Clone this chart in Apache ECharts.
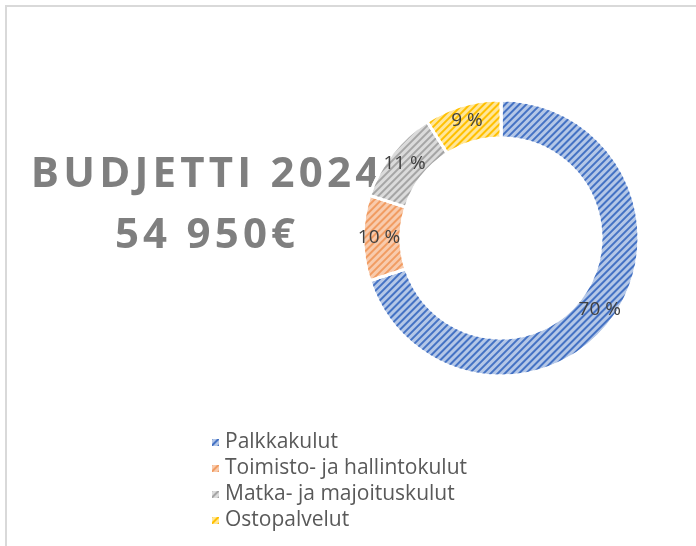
<!DOCTYPE html>
<html>
<head>
<meta charset="utf-8">
<script src="https://cdn.jsdelivr.net/npm/echarts@6/dist/echarts.min.js"></script>
<style>
  html, body { margin: 0; padding: 0; background: #fff; }
  #main { width: 696px; height: 546px; }
</style>
</head>
<body>
<div id="main"></div>
<script>
// budjetin jakauma (%)
var categories = ['Palkkakulut', 'Toimisto- ja hallintokulut', 'Matka- ja majoituskulut', 'Ostopalvelut'];
var shares = [70, 10, 11, 9];
var fillColors = ['#b4c7e7', '#f8cbad', '#dbdbdb', '#ffe699'];
var lineColors = ['#4472c4', '#ed7d31', '#a5a5a5', '#ffc000'];
var titleLines = ['BUDJETTI 2024', '54 950€'];

var myChart = echarts.init(document.getElementById('main'));

// kirjainväli otsikkoon (hair space merkkien väliin)
function spaced(s) {
    return s.split('').join('\u200A');
}

var pieData = [];
for (var i = 0; i < categories.length; i++) {
    pieData.push({
        name: categories[i],
        value: shares[i],
        itemStyle: {
            color: fillColors[i],
            decal: {
                symbol: 'rect',
                color: lineColors[i],
                dashArrayX: [1, 0],
                dashArrayY: [2, 3],
                rotation: -Math.PI / 4
            }
        }
    });
}

var option = {
    backgroundColor: '#fff',
    aria: { enabled: true, decal: { show: true } },
    graphic: [
        {
            type: 'rect',
            shape: { x: 6, y: 6, width: 800, height: 700 },
            style: { fill: 'none', stroke: '#d9d9d9', lineWidth: 2 },
            silent: true
        },
        {
            type: 'text',
            x: 205,
            y: 175,
            style: {
                text: spaced(titleLines[0]),
                font: 'bold 42px "Open Sans"',
                fill: '#7f7f7f',
                align: 'center',
                verticalAlign: 'middle'
            }
        },
        {
            type: 'text',
            x: 205,
            y: 236,
            style: {
                text: spaced(titleLines[1]),
                font: 'bold 42px "Open Sans"',
                fill: '#7f7f7f',
                align: 'center',
                verticalAlign: 'middle'
            }
        }
    ],
    legend: {
        orient: 'vertical',
        left: 205,
        top: 427,
        itemWidth: 9,
        itemHeight: 9,
        itemGap: 5,
        icon: 'rect',
        textStyle: { fontFamily: '"Open Sans"', fontSize: 21, color: '#595959' },
        data: categories
    },
    series: [{
        type: 'pie',
        center: [501, 238],
        radius: [100, 138],
        startAngle: 90,
        clockwise: true,
        avoidLabelOverlap: false,
        itemStyle: { borderColor: '#fff', borderWidth: 3 },
        label: {
            show: true,
            position: 'inside',
            formatter: '{c} %',
            fontFamily: '"Open Sans"',
            fontSize: 19,
            color: '#404040'
        },
        labelLine: { show: false },
        emphasis: { disabled: true },
        data: pieData
    }]
};

myChart.setOption(option);
</script>
</body>
</html>
